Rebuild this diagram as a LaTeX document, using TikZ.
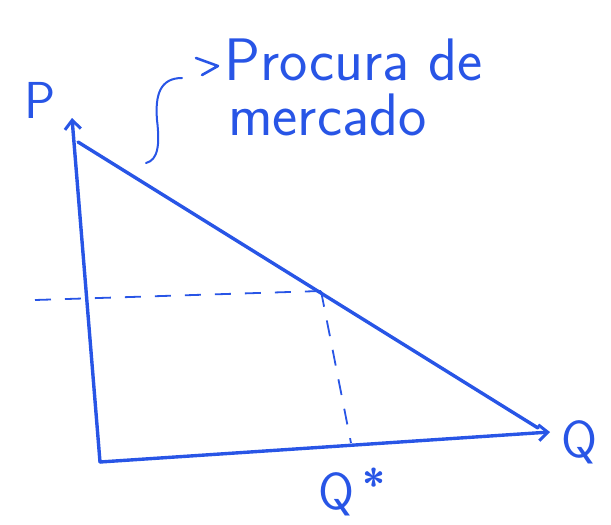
\documentclass[tikz,border=0pt]{standalone}
\usetikzlibrary{arrows.meta}
\definecolor{ink}{RGB}{40,85,230}
\begin{document}
\begin{tikzpicture}[x=1pt,y=-1pt,
  pen/.style={draw=ink,line width=3.4pt,line cap=round,line join=round},
  axis/.style={pen,-{Straight Barb[length=9pt,width=16pt,line width=3pt]}},
  dsh/.style={draw=ink,line width=1.8pt,dash pattern=on 16pt off 14pt},
  lab/.style={text=ink,inner sep=0pt,font=\fontsize{52}{56}\selectfont\sffamily},
  big/.style={text=ink,inner sep=0pt,anchor=base west,font=\fontsize{60}{66}\selectfont\sffamily}]
\useasboundingbox (0,0) rectangle (611,525);
\coordinate (O) at (100,462);
\coordinate (ytop) at (72,118);
\coordinate (xend) at (550,432);
\coordinate (d1) at (78,142);
\coordinate (d2) at (538,428);
\coordinate (E) at (321,291);
\coordinate (yl) at (35,300);
\coordinate (xq) at (351,443);
\draw[axis] (O) -- (ytop);
\draw[axis] (O) -- (xend);
\draw[pen] (d1) -- (d2);
\draw[dsh] (yl) -- (E);
\draw[dsh] (E) -- (xq);
\node[lab] (P) at (40,100) {P};
\node[lab] (Q) at (580,442) {Q};
\node[lab,anchor=west] (Qs) at (318,494) {Q};
\node[text=ink,inner sep=0pt,font=\fontsize{42}{42}\selectfont\sffamily\bfseries] (star) at (374,484) {*};
\draw[draw=ink,line width=2pt,line cap=round] (182,78) .. controls (160,78) and (155,95) .. (157,120) .. controls (160,145) and (158,160) .. (146,163);
\draw[draw=ink,line width=2.6pt,line cap=round,line join=round] (196,58) -- (218,66) -- (202,75);
\node[big] (t1) at (224,80) {Procura de};
\node[big] (t2) at (228,135) {mercado};
\end{tikzpicture}
\end{document}
